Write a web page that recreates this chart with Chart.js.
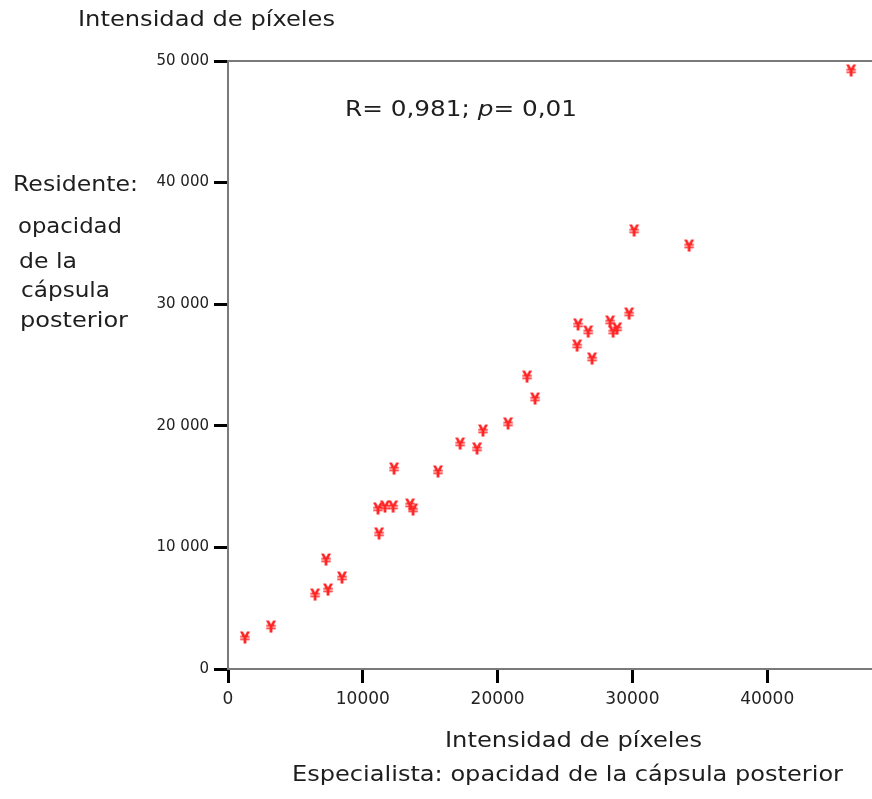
<!DOCTYPE html>
<html>
<head>
<meta charset="utf-8">
<script src="https://cdn.jsdelivr.net/npm/chart.js@4/dist/chart.umd.min.js"></script>
<style>
html,body{margin:0;padding:0;background:#fff;overflow:hidden;}
#wrap{position:relative;width:872px;height:799px;}
canvas{display:block;}
</style>
</head>
<body>
<div id="wrap"><canvas id="c" width="872" height="799"></canvas></div>
<script>
// Especialista (x) vs Residente (y): intensidad de píxeles
const especialista = [1260, 3190, 6460, 7420, 7270, 8460, 11210, 11130, 11650, 12250, 13510, 13730, 12320, 15580, 17220, 18480, 18920, 20780, 22190, 22780, 25900, 25970, 26720, 27010, 28350, 28570, 28870, 29760, 30130, 34210, 46230];
const residente    = [2470, 3370, 6000, 6410, 8880, 7400, 11020, 13080, 13240, 13240, 13400, 12990, 16360, 16120, 18420, 18010, 19490, 20070, 23930, 22120, 26480, 28210, 27630, 25410, 28450, 27630, 27880, 29110, 35940, 34700, 49100];
const xTicks = [0, 10000, 20000, 30000, 40000];
const yTicks = [0, 10000, 20000, 30000, 40000, 50000];
const xTickLabels = ['0', '10000', '20000', '30000', '40000'];
const yTickLabels = ['0', '10 000', '20 000', '30 000', '40 000', '50 000'];
const topTitle = 'Intensidad de píxeles';
const yTitleLines = ['Residente:', 'opacidad', 'de la', 'cápsula', 'posterior'];
const xTitleLines = ['Intensidad de píxeles', 'Especialista: opacidad de la cápsula posterior'];
const statParts = [['R= 0,981; ', false], ['p', true], ['= 0,01', false]];

// marker glyph
const mk = document.createElement('canvas');
mk.width = 12; mk.height = 17;
(function(){
  const g = mk.getContext('2d');
  g.fillStyle = '#ff2424';
  g.font = 'bold 15px "DejaVu Sans"';
  g.textAlign = 'center';
  g.textBaseline = 'middle';
  g.fillText('¥', 6, 9);
})();

const FONT = '"DejaVu Sans"';
function drawFit(ctx, parts, x, base, width, size){
  let total = 0;
  const ws = parts.map(([t, it]) => {
    ctx.font = (it ? 'italic ' : '') + size + 'px ' + FONT;
    const w = ctx.measureText(t).width; total += w; return w;
  });
  const sx = width / total;
  ctx.save();
  ctx.translate(x, base);
  ctx.scale(sx, 1);
  let cx = 0;
  parts.forEach(([t, it], i) => {
    ctx.font = (it ? 'italic ' : '') + size + 'px ' + FONT;
    ctx.fillText(t, cx, 0);
    cx += ws[i];
  });
  ctx.restore();
}

const textPlugin = {
  id: 'texts',
  afterDraw(chart){
    const ctx = chart.ctx;
    const ca = chart.chartArea;
    ctx.save();
    ctx.strokeStyle = '#7a7a7a';
    ctx.lineWidth = 2;
    ctx.beginPath();
    ctx.moveTo(ca.left, ca.top);
    ctx.lineTo(chart.width, ca.top);
    ctx.stroke();
    ctx.fillStyle = '#1e1e1e';
    ctx.textAlign = 'left';
    ctx.textBaseline = 'alphabetic';
    const S = 20.5;
    drawFit(ctx, [[topTitle, false]], 78, 26, 257, S);
    drawFit(ctx, statParts, 345, 116, 232, S);
    const yl = [[13, 191, 125], [18, 233, 104], [19, 268, 58], [21, 297, 89], [20, 327, 108]];
    yTitleLines.forEach((t, i) => drawFit(ctx, [[t, false]], yl[i][0], yl[i][1], yl[i][2], S));
    drawFit(ctx, [[xTitleLines[0], false]], 445, 747, 257, S);
    drawFit(ctx, [[xTitleLines[1], false]], 292, 781, 551, S);
    ctx.restore();
  }
};

new Chart(document.getElementById('c'), {
  type: 'scatter',
  data: {
    datasets: [{
      data: especialista.map((x, i) => ({x: x, y: residente[i]})),
      pointStyle: mk,
      pointRadius: 6,
      pointHoverRadius: 6
    }]
  },
  options: {
    responsive: false,
    animation: false,
    events: [],
    layout: {autoPadding: false, padding: {left: 0, top: 61, right: 1, bottom: 90}},
    plugins: {legend: {display: false}, tooltip: {enabled: false}},
    scales: {
      x: {
        type: 'linear', min: 0, max: 47700,
        afterBuildTicks: s => { s.ticks = xTicks.map(v => ({value: v})); },
        afterFit: s => { s.height = 40; s.paddingLeft = 0; s.paddingRight = 0; },
        ticks: {
          callback: (v) => xTickLabels[xTicks.indexOf(v)],
          font: {family: 'DejaVu Sans', size: 17},
          color: '#222', padding: 6, maxRotation: 0, autoSkip: false
        },
        grid: {display: true, drawOnChartArea: false, drawTicks: true, tickLength: 14, tickWidth: 3, tickColor: '#000'},
        border: {display: true, color: '#7a7a7a', width: 2}
      },
      y: {
        type: 'linear', min: 0, max: 50000,
        afterBuildTicks: s => { s.ticks = yTicks.map(v => ({value: v})); },
        afterFit: s => { s.width = 228; s.paddingTop = 0; s.paddingBottom = 0; },
        ticks: {
          callback: (v) => yTickLabels[yTicks.indexOf(v)],
          font: {family: 'DejaVu Sans', size: 15},
          color: '#222', padding: 5, autoSkip: false
        },
        grid: {display: true, drawOnChartArea: false, drawTicks: true, tickLength: 14, tickWidth: 3, tickColor: '#000'},
        border: {display: true, color: '#7a7a7a', width: 2}
      }
    }
  },
  plugins: [textPlugin]
});
</script>
</body>
</html>
